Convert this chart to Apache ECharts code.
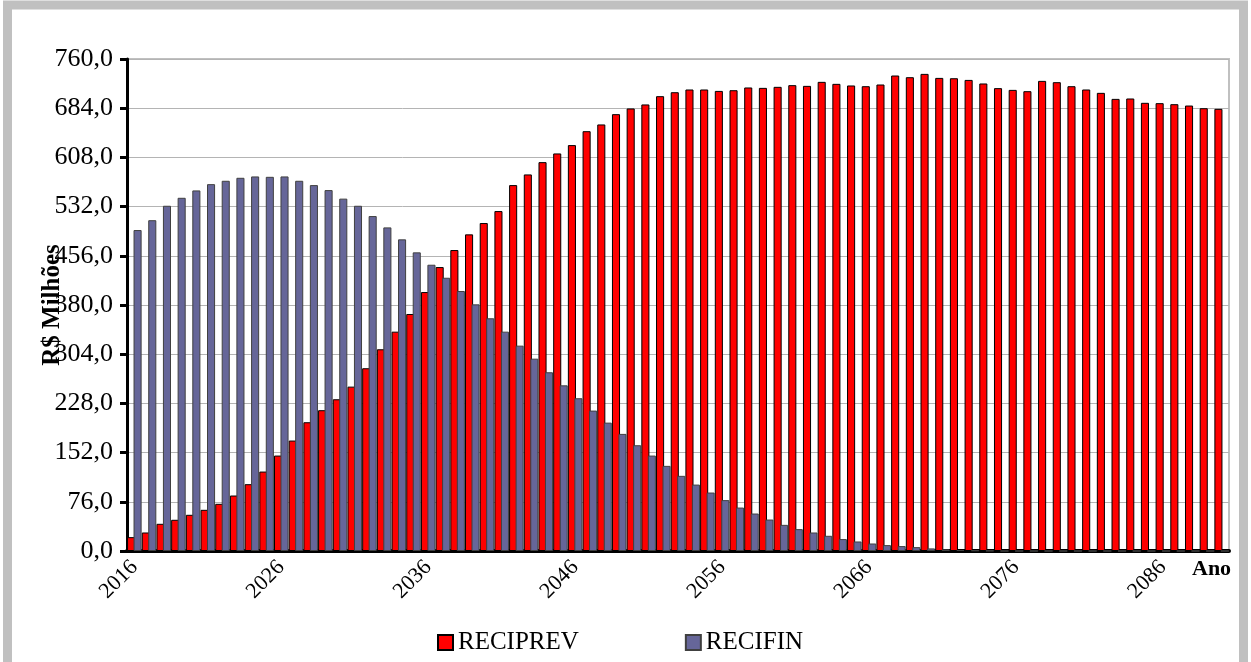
<!DOCTYPE html>
<html>
<head>
<meta charset="utf-8">
<script src="https://cdn.jsdelivr.net/npm/echarts@6/dist/echarts.min.js"></script>
<style>
  html, body { margin: 0; padding: 0; background: #fff; }
  #chart { width: 1251px; height: 662px; }
</style>
</head>
<body>
<div id="chart"></div>
<script>
// Anos 2016..2090
const anos = []
for (let a = 2016; a <= 2090; a++) anos.push(String(a))

// RECIPREV (R$ milhões)
const reciprev = [
  21.4, 28.6, 42.0, 48.2, 55.9, 63.6, 72.9, 85.7, 103.2, 122.7,
  147.4, 170.6, 198.9, 217.5, 234.4, 253.9, 282.3, 311.6, 338.8, 366.1,
  400.0, 438.6, 464.9, 489.1, 506.6, 525.1, 565.2, 581.7, 600.7, 614.1,
  627.0, 648.5, 658.9, 674.8, 683.6, 689.8, 702.6, 708.7, 712.9, 712.9,
  710.7, 711.8, 716.0, 715.4, 717.0, 719.6, 718.5, 724.7, 721.6, 719.1,
  718.0, 720.6, 734.5, 731.9, 737.0, 730.8, 730.3, 727.7, 722.2, 715.0,
  712.3, 710.3, 726.2, 724.2, 718.0, 712.9, 707.7, 698.4, 699.0, 692.3,
  691.8, 690.2, 688.1, 684.0, 683.0
]

// RECIFIN (R$ milhões)
const recifin = [
  495.8, 511.0, 533.3, 545.6, 557.0, 566.7, 571.9, 576.5, 578.6, 578.0,
  578.6, 571.9, 565.2, 557.5, 544.3, 533.3, 517.4, 499.9, 481.4, 461.3,
  442.2, 422.1, 401.6, 381.0, 359.5, 338.8, 317.2, 297.1, 276.1, 255.9,
  236.0, 216.9, 198.3, 180.9, 163.4, 147.4, 131.5, 116.1, 102.6, 90.3,
  78.6, 67.1, 57.9, 48.6, 40.4, 33.8, 28.6, 23.5, 18.4, 14.7,
  11.6, 9.1, 7.6, 6.0, 4.0, 2.5, 1.5, 1.0, 0.5, 0,
  0, 0, 0, 0, 0, 0, 0, 0, 0, 0,
  0, 0, 0, 0, 0
]

const serif = 'Liberation Serif'

const chart = echarts.init(document.getElementById('chart'))
chart.setOption({
  animation: false,
  backgroundColor: '#fff',
  textStyle: { fontFamily: serif, color: '#000' },
  grid: {
    left: 127, right: 22, top: 59, bottom: 111,
    show: true, borderColor: '#c0c0c0', borderWidth: 2
  },
  legend: {
    left: 437, top: 630, padding: 0,
    itemWidth: 15, itemHeight: 15, itemGap: 106,
    icon: 'rect',
    textStyle: { fontFamily: serif, fontSize: 25, color: '#000' },
    data: ['RECIPREV', 'RECIFIN']
  },
  xAxis: {
    type: 'category',
    data: anos,
    boundaryGap: true,
    axisLine: { lineStyle: { color: '#000', width: 4 } },
    axisTick: { interval: 9, length: 6, lineStyle: { color: '#000', width: 3 } },
    axisLabel: {
      interval: 9, rotate: 45, margin: 13,
      fontFamily: serif, fontSize: 22, color: '#000'
    },
    splitLine: { show: false }
  },
  yAxis: {
    type: 'value',
    min: 0, max: 760, interval: 76,
    name: 'R$ Milhões',
    nameLocation: 'middle',
    nameGap: 62,
    nameMoveOverlap: false,
    nameTextStyle: { fontFamily: serif, fontSize: 25, fontWeight: 'bold', color: '#000' },
    axisLine: { show: true, lineStyle: { color: '#000', width: 3 } },
    axisTick: { show: true, length: 7, lineStyle: { color: '#000', width: 3 } },
    axisLabel: {
      margin: 14, fontFamily: serif, fontSize: 26, color: '#000',
      formatter: v => v.toFixed(1).replace('.', ',')
    },
    splitLine: { lineStyle: { color: '#b4b4b4', width: 1 } }
  },
  series: [
    {
      name: 'RECIPREV', type: 'bar', data: reciprev,
      barWidth: '55%', barGap: '-20%',
      itemStyle: { color: '#ff0000', borderColor: '#000', borderWidth: 1 }
    },
    {
      name: 'RECIFIN', type: 'bar', data: recifin,
      barWidth: '55%', barGap: '-20%',
      itemStyle: { color: '#666699', borderColor: '#404040', borderWidth: 1 }
    }
  ],
  graphic: [
    {
      type: 'rect', silent: true, z: 100,
      shape: { x: 7.5, y: 5, width: 1236, height: 700 },
      style: { fill: null, stroke: '#c0c0c0', lineWidth: 9 }
    },
    {
      type: 'text', left: 1192, top: 558,
      style: { text: 'Ano', font: 'bold 22px "Liberation Serif"', fill: '#000' }
    }
  ]
})
</script>
</body>
</html>
